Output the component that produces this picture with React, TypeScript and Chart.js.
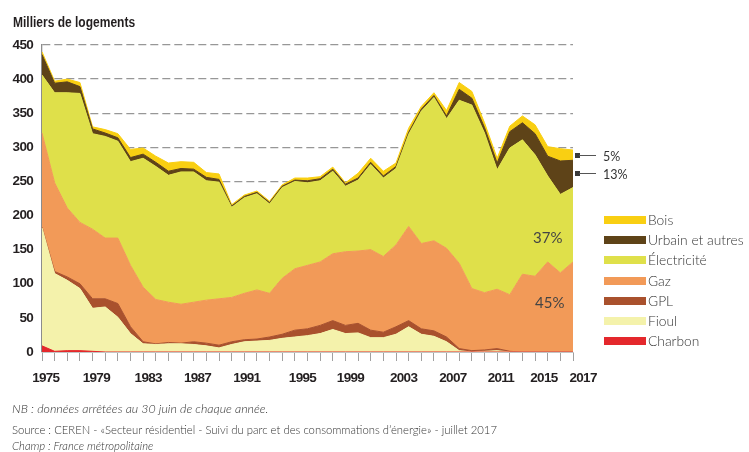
import React, { useEffect, useRef } from "react";
import { Chart, registerables } from "chart.js";

Chart.register(...registerables);

// ---------- data (milliers de logements) ----------
const years = [
  "1975", "1976", "1977", "1978", "1979", "1980", "1981", "1982", "1983", "1984",
  "1985", "1986", "1987", "1988", "1989", "1990", "1991", "1992", "1993", "1994",
  "1995", "1996", "1997", "1998", "1999", "2000", "2001", "2002", "2003", "2004",
  "2005", "2006", "2007", "2008", "2009", "2010", "2011", "2012", "2013", "2014",
  "2015", "2016", "2017",
];

// tick labels of the year axis, and where the original graphic sets them (in years)
const yearLabels = ["1975", "1979", "1983", "1987", "1991", "1995", "1999", "2003", "2007", "2011", "2015", "2017"];
const yearLabelAt = [1975.3, 1979.3, 1983.4, 1987.3, 1991.2, 1995.6, 1999.4, 2003.6, 2007.5, 2011.3, 2014.7, 2017.8];

const charbon = [
  9, 1, 2, 2, 1, 0, 0, 0, 0, 0,
  0, 0, 0, 0, 0, 0, 0, 0, 0, 0,
  0, 0, 0, 0, 0, 0, 0, 0, 0, 0,
  0, 0, 0, 0, 0, 0, 0, 0, 0, 0,
  0, 0, 0,
];
const fioul = [
  173, 114, 103, 91, 63, 66, 51, 27, 12, 11,
  12, 12, 11, 9, 6, 11, 15, 16, 17, 20,
  22, 24, 27, 33, 27, 28, 21, 21, 26, 37,
  26, 23, 15, 2, 0, 1, 2, 0, 0, 0,
  0, 0, 0,
];
const gpl = [
  1, 3, 5, 7, 14, 12, 20, 10, 3, 1,
  2, 1, 4, 4, 4, 4, 3, 3, 5, 6,
  10, 10, 12, 13, 12, 14, 11, 8, 11, 9,
  8, 8, 7, 3, 2, 2, 3, 1, 0, 0,
  0, 0, 0,
];
const gaz = [
  138, 130, 101, 90, 102, 89, 96, 90, 80, 65,
  59, 57, 58, 63, 68, 65, 68, 72, 64, 82,
  90, 93, 93, 98, 108, 106, 118, 111, 120, 138,
  125, 132, 130, 125, 91, 84, 87, 83, 114, 111,
  132, 116, 132,
];
const electricite = [
  85, 132, 169, 189, 140, 149, 142, 152, 189, 195,
  186, 194, 191, 175, 171, 132, 140, 141, 131, 133,
  128, 121, 119, 121, 96, 104, 125, 115, 112, 135,
  194, 210, 190, 239, 269, 234, 175, 215, 197, 178,
  126, 115, 109,
];
const urbain = [
  30, 14, 16, 10, 7, 5, 5, 6, 6, 6,
  6, 5, 4, 5, 4, 2, 2, 2, 2, 2,
  2, 3, 3, 3, 3, 3, 3, 3, 3, 3,
  3, 3, 4, 16, 10, 8, 10, 24, 25, 31,
  29, 49, 40,
];
const bois = [
  4, 3, 4, 6, 3, 5, 6, 12, 9, 9,
  12, 10, 10, 7, 8, 2, 2, 2, 2, 2,
  3, 4, 3, 3, 2, 7, 6, 7, 5, 6,
  4, 4, 8, 10, 10, 7, 7, 8, 10, 13,
  14, 18, 15,
];

const yTicks = [0, 50, 100, 150, 200, 250, 300, 350, 400, 450];

const seriesNames = ["Charbon", "Fioul", "GPL", "Gaz", "Électricité", "Urbain et autres", "Bois"];
const seriesColors = ["#e4282c", "#f4f2ab", "#a9512d", "#f29a58", "#dfe04a", "#5e4318", "#f9cf12"];
const seriesData = [charbon, fioul, gpl, gaz, electricite, urbain, bois];

const legendOrder = ["Bois", "Urbain et autres", "Électricité", "Gaz", "GPL", "Fioul", "Charbon"];

const shares2017 = [
  { label: "5%", y: 157 },
  { label: "13%", y: 175 },
];

const FONT_AXIS = '"Liberation Sans", Arial, sans-serif';
const FONT_LIGHT = 'Lato, "Open Sans", "Noto Sans", sans-serif';

const condensePlugin = {
  id: "condense",
  beforeDraw(chart: any) {
    chart.ctx.letterSpacing = "-0.7px";
  },
};

export default function App() {
  const ref = useRef<HTMLCanvasElement>(null);

  useEffect(() => {
    const canvas = ref.current;
    if (!canvas) return;
    const chart = new Chart(canvas, {
      type: "line",
      data: {
        labels: years,
        datasets: seriesData.map((d, i) => ({
          label: seriesNames[i],
          data: d,
          backgroundColor: seriesColors[i],
          borderColor: seriesColors[i],
          borderWidth: 1,
          pointRadius: 0,
          tension: 0,
          fill: i === 0 ? "origin" : "-1",
        })),
      },
      plugins: [condensePlugin],
      options: {
        animation: false,
        responsive: false,
        devicePixelRatio: 1,
        layout: { padding: { left: 0, top: 45, right: 176, bottom: 0 } },
        plugins: { legend: { display: false }, tooltip: { enabled: false } },
        scales: {
          x: {
            type: "category",
            offset: false,
            weight: 0,
            grid: { drawOnChartArea: false, drawTicks: true, tickLength: 9, color: "#a0a0a0", lineWidth: 1 },
            border: { display: true, color: "#c4c4c4", width: 1 },
            ticks: { display: false, autoSkip: false },
            afterFit: (s: any) => {
              s.height = 10;
            },
          },
          xl: {
            type: "linear",
            position: "bottom",
            weight: 1,
            min: 1975,
            max: 2017,
            grid: { display: false, drawTicks: false },
            border: { display: false },
            afterBuildTicks: (s: any) => {
              s.ticks = yearLabelAt.map((v) => ({ value: v }));
            },
            ticks: {
              autoSkip: false,
              maxRotation: 0,
              padding: 8,
              color: "#231f20",
              font: { family: FONT_AXIS, size: 13.5, weight: "bold" },
              callback: (_v: any, i: number) => yearLabels[i],
            },
            afterFit: (s: any) => {
              s.height = 90;
            },
          },
          y: {
            stacked: true,
            min: 0,
            max: 450,
            z: 1,
            afterBuildTicks: (s: any) => {
              s.ticks = yTicks.map((v) => ({ value: v }));
            },
            ticks: {
              padding: 9,
              color: "#231f20",
              font: { family: FONT_AXIS, size: 13.5, weight: "bold" },
            },
            grid: {
              drawTicks: false,
              lineWidth: 1.3,
              color: (c: any) => (c.tick && c.tick.value === 0 ? "rgba(0,0,0,0)" : "#979797"),
            },
            border: { display: true, color: "#8c8c8c", width: 1.3, dash: [8, 4] },
            afterFit: (s: any) => {
              s.width = 42;
            },
          },
        },
      },
    });
    return () => chart.destroy();
  }, []);

  return (
    <div
      style={{
        position: "absolute",
        left: 0,
        top: 0,
        width: 749,
        height: 452,
        overflow: "hidden",
        background: "#fff",
      }}
    >
      <canvas ref={ref} width={749} height={452} style={{ position: "absolute", left: 0, top: 0 }} />
      <div
        style={{
          position: "absolute",
          left: 13,
          top: 15,
          fontFamily: FONT_AXIS,
          fontWeight: "bold",
          fontSize: 13.8,
          lineHeight: "15px",
          color: "#231f20",
          whiteSpace: "nowrap",
          transform: "scaleX(0.87)",
          transformOrigin: "0 0",
        }}
      >
        Milliers de logements
      </div>

      {shares2017.map((s) => (
        <React.Fragment key={s.label}>
          <div style={{ position: "absolute", left: 575, top: s.y - 4, width: 5, height: 5, background: "#3a3a3a" }} />
          <div style={{ position: "absolute", left: 579, top: s.y - 2, width: 17, height: 1, background: "#555" }} />
          <div
            style={{
              position: "absolute",
              left: 603,
              top: s.y - 8,
              fontFamily: FONT_LIGHT,
              fontSize: 12.5,
              lineHeight: "15px",
              color: "#333",
            }}
          >
            {s.label}
          </div>
        </React.Fragment>
      ))}

      <div style={{ position: "absolute", left: 533, top: 228, fontFamily: FONT_LIGHT, fontSize: 15, lineHeight: "18px", color: "#444" }}>
        37%
      </div>
      <div style={{ position: "absolute", left: 535, top: 293, fontFamily: FONT_LIGHT, fontSize: 15, lineHeight: "18px", color: "#444" }}>
        45%
      </div>

      {legendOrder.map((name, i) => {
        const idx = seriesNames.indexOf(name);
        const cy = 220 + i * 20.2;
        return (
          <React.Fragment key={name}>
            <div
              style={{
                position: "absolute",
                left: 604,
                top: cy - 4,
                width: 42,
                height: 8,
                background: seriesColors[idx],
              }}
            />
            <div
              style={{
                position: "absolute",
                left: 648,
                top: cy - 9,
                fontFamily: FONT_LIGHT,
                fontWeight: 300,
                fontSize: 13.8,
                lineHeight: "17px",
                color: "#333",
                whiteSpace: "nowrap",
              }}
            >
              {name}
            </div>
          </React.Fragment>
        );
      })}

      <div
        style={{
          position: "absolute",
          left: 12,
          top: 401,
          fontFamily: FONT_LIGHT,
          fontStyle: "italic",
          fontWeight: 300,
          fontSize: 12.4,
          lineHeight: "15px",
          color: "#333",
          whiteSpace: "nowrap",
        }}
      >
        NB :  données arrêtées au 30 juin de chaque année.
      </div>
      <div
        style={{
          position: "absolute",
          left: 12,
          top: 423,
          fontFamily: FONT_LIGHT,
          fontWeight: 300,
          fontSize: 11.3,
          lineHeight: "14px",
          color: "#333",
          whiteSpace: "nowrap",
        }}
      >
        Source : CEREN - «Secteur résidentiel - Suivi du parc et des consommations d’énergie» - juillet 2017
      </div>
      <div
        style={{
          position: "absolute",
          left: 12,
          top: 439,
          fontFamily: FONT_LIGHT,
          fontStyle: "italic",
          fontWeight: 300,
          fontSize: 11.3,
          lineHeight: "14px",
          color: "#333",
          whiteSpace: "nowrap",
        }}
      >
        Champ : France métropolitaine
      </div>
    </div>
  );
}
